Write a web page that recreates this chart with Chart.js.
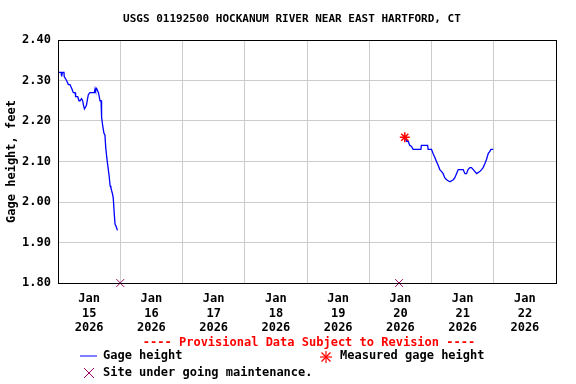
<!DOCTYPE html>
<html>
<head>
<meta charset="utf-8">
<script src="https://cdn.jsdelivr.net/npm/chart.js@4/dist/chart.umd.min.js"></script>
<style>
  body { margin: 0; background: #fff; }
  #wrap { position: relative; width: 576px; height: 384px; font-family: "DejaVu Sans Mono", "Liberation Mono", monospace; font-weight: bold; }
  #wrap canvas { position: absolute; left: 0; top: 0; }
  .txt { position: absolute; white-space: pre; color: #000; }
  #title { left: 4px; width: 576px; top: 12px; text-align: center; font-size: 11px; }
  #prov { left: 21px; width: 576px; top: 335px; text-align: center; font-size: 12px; color: #f00; }
  .leg { font-size: 12px; }
  svg { position: absolute; }
</style>
</head>
<body>
<div id="wrap">
  <canvas id="chart" width="576" height="384"></canvas>
  <div class="txt" id="title">USGS 01192500 HOCKANUM RIVER NEAR EAST HARTFORD, CT</div>
  <div class="txt" id="prov">---- Provisional Data Subject to Revision ----</div>
  <svg style="left:79px;top:351px" width="20" height="10"><line x1="1" y1="5" x2="18" y2="5" stroke="#00f" stroke-width="1"/></svg>
  <div class="txt leg" style="left:103px;top:348px">Gage height</div>
  <svg style="left:319px;top:350px" width="14" height="14"><g stroke="#f00" stroke-width="1.2"><line x1="7" y1="1" x2="7" y2="13"/><line x1="1" y1="7" x2="13" y2="7"/><line x1="2.5" y1="2.5" x2="11.5" y2="11.5"/><line x1="11.5" y1="2.5" x2="2.5" y2="11.5"/></g></svg>
  <div class="txt leg" style="left:340px;top:348px">Measured gage height</div>
  <svg style="left:82px;top:366px" width="14" height="14"><g stroke="#990066" stroke-width="1"><line x1="2" y1="2" x2="12" y2="12"/><line x1="12" y1="2" x2="2" y2="12"/></g></svg>
  <div class="txt leg" style="left:103px;top:365px">Site under going maintenance.</div>
</div>
<script>
// hours since Jan 15 2026 00:00
const dayLabels = ["15", "16", "17", "18", "19", "20", "21", "22"];
const monthLabel = "Jan";
const yearLabel = "2026";
const yTicks = [1.8, 1.9, 2.0, 2.1, 2.2, 2.3, 2.4];

const gageHours1 = [0.1, 1.2, 1.4, 1.7, 2.3, 2.4, 3.3, 4.0, 4.6, 5.3, 5.9, 6.6, 6.8, 7.6, 8.1, 8.5, 9.1, 9.5, 9.8, 10.2,
  10.7, 11.0, 11.4, 11.7, 12.3, 14.0, 14.3, 14.5, 14.9, 15.6, 15.9, 16.2, 16.6, 16.8, 17.2, 17.7, 18.1, 18.4, 18.8,
  19.2, 19.7, 20.1, 20.4, 21.0, 21.3, 21.7, 22.0, 22.4, 22.9];
const gageValues1 = [2.32, 2.32, 2.31, 2.32, 2.32, 2.31, 2.30, 2.29, 2.29, 2.28, 2.27, 2.27, 2.26, 2.26, 2.25, 2.25, 2.255, 2.25, 2.24, 2.23,
  2.235, 2.24, 2.255, 2.265, 2.27, 2.27, 2.28, 2.275, 2.28, 2.27, 2.26, 2.25, 2.25, 2.21, 2.19, 2.17, 2.165, 2.135, 2.11,
  2.09, 2.065, 2.04, 2.035, 2.02, 2.01, 1.97, 1.945, 1.94, 1.93];

const gageHours2 = [133.5, 134.4, 135.0, 135.6, 136.3, 136.9, 139.9, 140.1, 142.5, 142.7, 144.0, 144.6, 145.3, 145.9, 146.6,
  147.2, 147.9, 148.5, 149.1, 149.8, 151.1, 152.4, 153.0, 154.0, 154.3, 156.2, 156.9, 157.5, 158.1, 158.8, 159.4, 160.1,
  161.4, 162.6, 163.3, 163.9, 164.6, 165.2, 165.9, 166.5, 166.9, 167.8];
const gageValues2 = [2.165, 2.15, 2.15, 2.14, 2.137, 2.13, 2.13, 2.14, 2.14, 2.13, 2.13, 2.12, 2.11, 2.10, 2.09,
  2.08, 2.075, 2.07, 2.06, 2.055, 2.05, 2.055, 2.06, 2.075, 2.08, 2.08, 2.07, 2.07, 2.08, 2.085, 2.085, 2.08,
  2.07, 2.075, 2.08, 2.085, 2.095, 2.105, 2.12, 2.125, 2.13, 2.13];

const measuredHours = [133.7];
const measuredValues = [2.16];

const maintenanceHours = [24, 131.5];
const maintenanceValues = [1.80, 1.80];

const gagePoints = gageHours1.map((h, i) => ({ x: h, y: gageValues1[i] }))
  .concat([{ x: 80, y: null }])
  .concat(gageHours2.map((h, i) => ({ x: h, y: gageValues2[i] })));

const frame = {
  id: "frame",
  afterDraw(chart) {
    const a = chart.chartArea;
    const ctx = chart.ctx;
    ctx.save();
    ctx.strokeStyle = "#000";
    ctx.lineWidth = 1;
    ctx.strokeRect(Math.round(a.left) + 0.5, Math.round(a.top) + 0.5, Math.round(a.right - a.left), Math.round(a.bottom - a.top));
    ctx.restore();
  }
};

const tickFont = { family: "'DejaVu Sans Mono', monospace", size: 12, weight: "bold" };

new Chart(document.getElementById("chart"), {
  type: "scatter",
  data: {
    datasets: [
      {
        label: "Gage height",
        type: "line",
        data: gagePoints,
        borderColor: "#0000ff",
        borderWidth: 1.3,
        pointRadius: 0,
        spanGaps: false,
        tension: 0,
        order: 3
      },
      {
        label: "Measured gage height",
        data: measuredHours.map((h, i) => ({ x: h, y: measuredValues[i] })),
        pointStyle: "star",
        pointRadius: 5,
        borderColor: "#ff0000",
        backgroundColor: "#ff0000",
        pointBorderWidth: 1.5,
        order: 1
      },
      {
        label: "Site under going maintenance.",
        data: maintenanceHours.map((h, i) => ({ x: h, y: maintenanceValues[i] })),
        pointStyle: "crossRot",
        pointRadius: 5.5,
        borderColor: "#990066",
        pointBorderWidth: 1,
        clip: false,
        order: 2
      }
    ]
  },
  options: {
    responsive: false,
    animation: false,
    layout: { padding: { top: 40, right: 20, bottom: 46, left: 0 } },
    plugins: { legend: { display: false }, title: { display: false }, tooltip: { enabled: false } },
    scales: {
      x: {
        type: "linear",
        min: 0,
        max: 192,
        afterBuildTicks(scale) {
          const t = [];
          for (let h = 0; h <= 192; h += 12) t.push({ value: h });
          scale.ticks = t;
        },
        afterFit(scale) { scale.height = 55; },
        grid: {
          color: c => (c.tick && c.tick.value % 24 === 0 && c.tick.value > 0 && c.tick.value < 192) ? "#cccccc" : "rgba(0,0,0,0)",
          drawTicks: false
        },
        border: { display: false },
        ticks: {
          autoSkip: false,
          maxRotation: 0,
          padding: 9,
          color: "#000",
          font: tickFont,
          callback: v => (v % 24 === 12) ? [monthLabel, dayLabels[(v - 12) / 24], yearLabel] : ""
        }
      },
      y: {
        min: 1.8,
        max: 2.4,
        afterBuildTicks(scale) { scale.ticks = yTicks.map(v => ({ value: v })); },
        afterFit(scale) { scale.width = 58; },
        grid: { color: "#cccccc", drawTicks: false },
        border: { display: false },
        title: { display: true, text: "Gage height, feet", color: "#000", font: tickFont, padding: { top: 5, bottom: 0 } },
        ticks: {
          padding: 7,
          color: "#000",
          font: tickFont,
          callback: v => v.toFixed(2)
        }
      }
    }
  },
  plugins: [frame]
});
</script>
</body>
</html>
